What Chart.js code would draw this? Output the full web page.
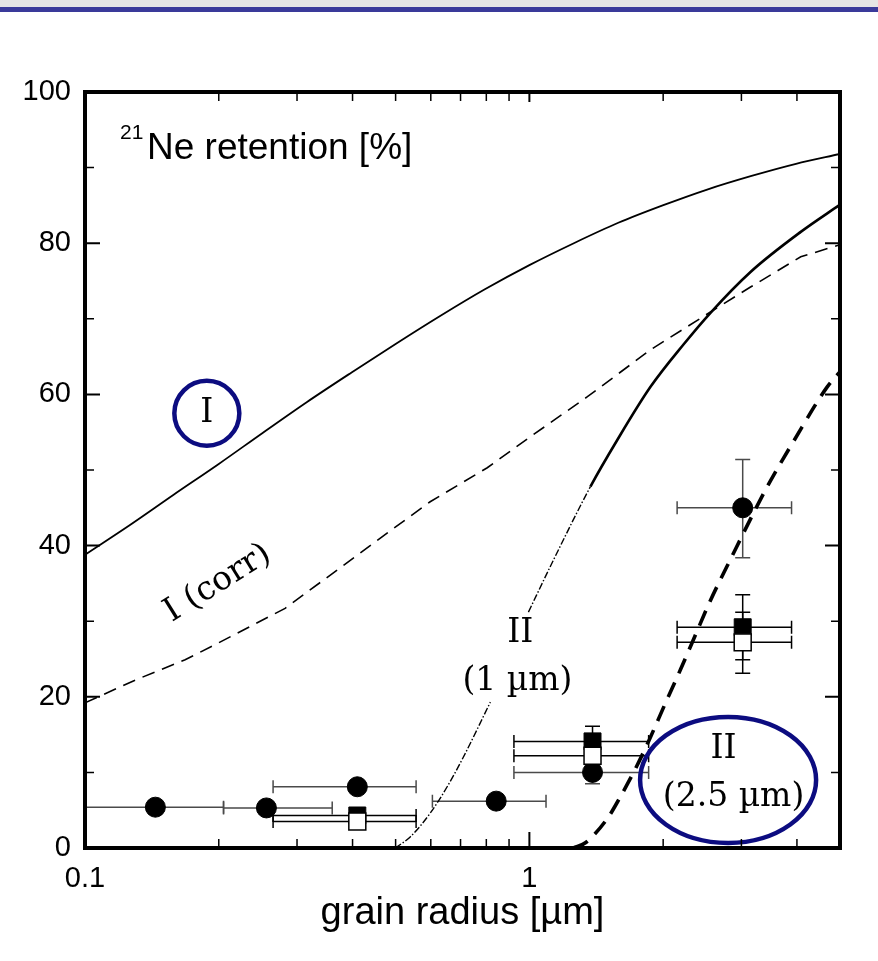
<!DOCTYPE html>
<html>
<head>
<meta charset="utf-8">
<script src="https://cdn.jsdelivr.net/npm/chart.js@4.4.1/dist/chart.umd.min.js"></script>
<style>
html,body{margin:0;padding:0;background:#fff;}
#wrap{position:relative;width:878px;height:961px;}
</style>
</head>
<body>
<div id="wrap"><canvas id="c"></canvas></div>
<script>
// ---------- tick labels ----------
const xTickValues = [0.1, 1];
const xTickLabels = ['0.1', '1'];
const yTickValues = [0, 20, 40, 60, 80, 100];
const xMinorTicks = [0.2, 0.3, 0.4, 0.5, 0.6, 0.7, 0.8, 0.9, 2, 3, 4];
const xMajorTicks = [1];
const yMajorTicks = [20, 40, 60, 80];
const yMinorTicks = [10, 30, 50, 70, 90];

// ---------- model curves ----------
const curveI_x = [0.1, 0.126, 0.158, 0.2, 0.251, 0.316, 0.398, 0.501, 0.631, 0.794, 1.0, 1.259, 1.585, 1.995, 2.512, 3.162, 3.981, 5];
const curveI_y = [38.8, 42.7, 46.7, 50.8, 54.9, 59.0, 62.9, 66.7, 70.4, 73.9, 77.1, 80.0, 82.7, 85.0, 87.1, 88.9, 90.5, 91.8];

const curveIcorr_x = [0.1, 0.1296, 0.168, 0.1993, 0.282, 0.366, 0.462, 0.598, 0.804, 1.005, 1.351, 1.873, 2.556, 3.145, 4.08, 5];
const curveIcorr_y = [19.2, 22.2, 24.9, 27.1, 31.7, 36.6, 41.0, 45.8, 50.3, 54.4, 59.7, 65.9, 70.9, 74.2, 78.2, 79.8];

const curveII1_x = [0.499, 0.54, 0.598, 0.653, 0.710, 0.817, 0.9, 0.995, 1.133, 1.372, 1.578, 1.873, 2.222, 2.556, 3.145, 4.08, 5];
const curveII1_y = [0, 1.5, 4.6, 8.1, 12.0, 19.3, null, 31.2, 38.1, 47.8, 54.0, 61.0, 66.6, 70.8, 76.2, 81.5, 85.1];

const curveII25_x = [1.256, 1.337, 1.498, 1.603, 1.733, 1.854, 2.025, 2.188, 2.365, 2.53, 2.83, 3.43, 3.95, 4.68, 5.0];
const curveII25_y = [0, 0.7, 3.9, 6.8, 10.5, 14.1, 19.2, 23.6, 28.2, 32.2, 38.1, 47.8, 54.0, 61.0, 63.0];

// ---------- measured points ----------
const circX   = [0.144, 0.256, 0.41, 0.842, 1.387, 3.02];
const circY   = [5.4, 5.3, 8.1, 6.2, 10.0, 45.0];
const circXlo = [0.1, 0.205, 0.265, 0.605, 0.923, 2.15];
const circXhi = [0.205, 0.36, 0.556, 1.09, 1.855, 3.89];
const circYlo = [null, null, null, null, 8.5, 38.4];
const circYhi = [null, null, null, null, 11.5, 51.4];

const fsqX   = [0.41, 1.387, 3.02];
const fsqY   = [4.3, 14.1, 29.2];
const fsqXlo = [0.265, 0.923, 2.15];
const fsqXhi = [0.556, 1.855, 3.89];
const fsqYlo = [null, 12.0, 24.9];
const fsqYhi = [null, 16.1, 33.5];

const osqX   = [0.41, 1.387, 3.02];
const osqY   = [3.5, 12.2, 27.2];
const osqXlo = [0.265, 0.923, 2.15];
const osqXhi = [0.556, 1.855, 3.89];
const osqYlo = [null, null, 23.1];
const osqYhi = [null, null, 31.2];

function pts(xs, ys) { return xs.map((x, i) => ({x: x, y: ys[i]})); }

const serif = '"DejaVu Serif", serif';
const sans = '"Liberation Sans", Arial, sans-serif';

const decor = {
  id: 'decor',
  beforeDraw(chart) {
    const ctx = chart.ctx;
    ctx.save();
    ctx.fillStyle = '#fff';
    ctx.fillRect(0, 0, chart.width, chart.height);
    ctx.fillStyle = '#e5e5e5';
    ctx.fillRect(0, 0, chart.width, 7);
    ctx.fillStyle = '#3a3a9a';
    ctx.fillRect(0, 7, chart.width, 5);
    ctx.restore();
  },
  beforeDatasetsDraw(chart) {
    const ctx = chart.ctx, X = v => chart.scales.x.getPixelForValue(v), Y = v => chart.scales.y.getPixelForValue(v);
    const a = chart.chartArea;
    function err(xs, ys, xlo, xhi, ylo, yhi, color) {
      ctx.save();
      ctx.beginPath(); ctx.rect(a.left, a.top, a.right - a.left, a.bottom - a.top); ctx.clip();
      ctx.strokeStyle = color; ctx.lineWidth = 1.5;
      for (let i = 0; i < xs.length; i++) {
        const px = X(xs[i]), py = Y(ys[i]);
        ctx.beginPath();
        if (xlo[i] != null) {
          const l = X(xlo[i]), r = X(xhi[i]);
          ctx.moveTo(l, py); ctx.lineTo(r, py);
          ctx.moveTo(l, py - 6.5); ctx.lineTo(l, py + 6.5);
          ctx.moveTo(r, py - 6.5); ctx.lineTo(r, py + 6.5);
        }
        if (ylo[i] != null) {
          const b = Y(ylo[i]), t = Y(yhi[i]);
          ctx.moveTo(px, b); ctx.lineTo(px, t);
          ctx.moveTo(px - 7.5, b); ctx.lineTo(px + 7.5, b);
          ctx.moveTo(px - 7.5, t); ctx.lineTo(px + 7.5, t);
        }
        ctx.stroke();
      }
      ctx.restore();
    }
    err(circX, circY, circXlo, circXhi, circYlo, circYhi, '#4a4a4a');
    err(fsqX, fsqY, fsqXlo, fsqXhi, fsqYlo, fsqYhi, '#000');
    err(osqX, osqY, osqXlo, osqXhi, osqYlo, osqYhi, '#000');
  },
  afterDatasetsDraw(chart) {
    const ctx = chart.ctx, X = v => chart.scales.x.getPixelForValue(v), Y = v => chart.scales.y.getPixelForValue(v);
    const a = chart.chartArea;
    ctx.save();
    ctx.strokeStyle = '#0c0c80'; ctx.lineWidth = 4.5;
    ctx.beginPath(); ctx.ellipse(X(0.188), Y(57.5), 32.5, 32.5, 0, 0, Math.PI * 2); ctx.stroke();
    ctx.beginPath(); ctx.ellipse(X(2.80), Y(9.0), 88, 63, 0, 0, Math.PI * 2); ctx.stroke();
    ctx.restore();
    function label(text, xv, yv, size, rot) {
      ctx.save();
      ctx.translate(X(xv), Y(yv));
      if (rot) ctx.rotate(rot);
      ctx.font = size + 'px ' + serif;
      ctx.textAlign = 'center'; ctx.textBaseline = 'middle'; ctx.fillStyle = '#000';
      ctx.fillText(text, 0, 0);
      ctx.restore();
    }
    label('I', 0.188, 57.5, 33);
    label('I (corr)', 0.199, 35.0, 33, -32 * Math.PI / 180);
    label('II', 0.954, 28.4, 33);
    label('(1 µm)', 0.94, 22.0, 33);
    label('II', 2.735, 13.0, 33);
    label('(2.5 µm)', 2.88, 6.75, 33);
    ctx.save();
    ctx.fillStyle = '#000'; ctx.textAlign = 'left'; ctx.textBaseline = 'alphabetic';
    ctx.font = '21px ' + sans;
    ctx.fillText('21', a.left + 35, a.top + 47);
    ctx.font = '37px ' + sans;
    ctx.fillText('Ne retention [%]', a.left + 62, a.top + 67);
    ctx.restore();
  },
  afterDraw(chart) {
    const ctx = chart.ctx, X = v => chart.scales.x.getPixelForValue(v), Y = v => chart.scales.y.getPixelForValue(v);
    const a = chart.chartArea;
    ctx.save();
    ctx.strokeStyle = '#000';
    ctx.lineWidth = 1.5;
    ctx.beginPath();
    xMinorTicks.forEach(v => { const p = X(v); ctx.moveTo(p, a.bottom); ctx.lineTo(p, a.bottom - 9); ctx.moveTo(p, a.top); ctx.lineTo(p, a.top + 9); });
    yMinorTicks.forEach(v => { const p = Y(v); ctx.moveTo(a.left, p); ctx.lineTo(a.left + 9, p); ctx.moveTo(a.right, p); ctx.lineTo(a.right - 9, p); });
    ctx.stroke();
    ctx.lineWidth = 2;
    ctx.beginPath();
    xMajorTicks.forEach(v => { const p = X(v); ctx.moveTo(p, a.bottom); ctx.lineTo(p, a.bottom - 16); ctx.moveTo(p, a.top); ctx.lineTo(p, a.top + 10); });
    yMajorTicks.forEach(v => { const p = Y(v); ctx.moveTo(a.left, p); ctx.lineTo(a.left + 15, p); ctx.moveTo(a.right, p); ctx.lineTo(a.right - 15, p); });
    ctx.stroke();
    ctx.lineWidth = 4;
    ctx.strokeRect(a.left, a.top, a.right - a.left, a.bottom - a.top);
    ctx.restore();
  }
};

const lineBase = {showLine: true, pointRadius: 0, borderColor: '#000', fill: false};

new Chart(document.getElementById('c'), {
  type: 'scatter',
  data: {
    datasets: [
      {label: 'open squares', data: pts(osqX, osqY), pointStyle: 'rect', pointRadius: 12,
       backgroundColor: '#fff', borderColor: '#000', borderWidth: 1.5, order: 0},
      {label: 'filled squares', data: pts(fsqX, fsqY), pointStyle: 'rect', pointRadius: 12,
       backgroundColor: '#000', borderColor: '#000', borderWidth: 1, order: 1},
      {label: 'circles', data: pts(circX, circY), pointStyle: 'circle', pointRadius: 10,
       backgroundColor: '#000', borderColor: '#000', borderWidth: 1, order: 2},
      Object.assign({label: 'I', data: pts(curveI_x, curveI_y), borderWidth: 1.8,
       cubicInterpolationMode: 'monotone', order: 3}, lineBase),
      Object.assign({label: 'I (corr)', data: pts(curveIcorr_x, curveIcorr_y), borderWidth: 1.6,
       borderDash: [13, 8], tension: 0, order: 4}, lineBase),
      Object.assign({label: 'II (1 µm)', data: pts(curveII1_x, curveII1_y), borderWidth: 2.6,
       cubicInterpolationMode: 'monotone', spanGaps: false, order: 5,
       segment: {
         borderDash: c => c.p0.parsed.x < 1.35 ? [7, 2, 1.5, 2] : undefined,
         borderWidth: c => c.p0.parsed.x < 1.35 ? 1.4 : undefined
       }}, lineBase),
      Object.assign({label: 'II (2.5 µm)', data: pts(curveII25_x, curveII25_y), borderWidth: 3.6,
       borderDash: [16, 10], cubicInterpolationMode: 'monotone', order: 6}, lineBase)
    ]
  },
  options: {
    responsive: true,
    maintainAspectRatio: false,
    animation: false,
    events: [],
    layout: {padding: {top: 92, right: 38, left: 0, bottom: 0}},
    plugins: {legend: {display: false}, tooltip: {enabled: false}},
    scales: {
      x: {
        type: 'logarithmic', min: 0.1, max: 5,
        afterFit: s => { s.height = 113; },
        afterBuildTicks: s => { s.ticks = xTickValues.map(v => ({value: v})); },
        grid: {display: false, drawTicks: false},
        border: {display: false},
        ticks: {
          autoSkip: false, maxRotation: 0, padding: 14, color: '#000',
          font: {family: sans, size: 29},
          callback: (v, i) => xTickLabels[i]
        },
        title: {display: true, text: 'grain radius [µm]', color: '#000',
                font: {family: sans, size: 38}, padding: {top: 0, bottom: 25}}
      },
      y: {
        type: 'linear', min: 0, max: 100,
        afterFit: s => { s.width = 85; },
        afterBuildTicks: s => { s.ticks = yTickValues.map(v => ({value: v})); },
        grid: {display: false, drawTicks: false},
        border: {display: false},
        ticks: {padding: 14, color: '#000', font: {family: sans, size: 29},
                callback: v => String(v)}
      }
    }
  },
  plugins: [decor]
});
</script>
</body>
</html>
